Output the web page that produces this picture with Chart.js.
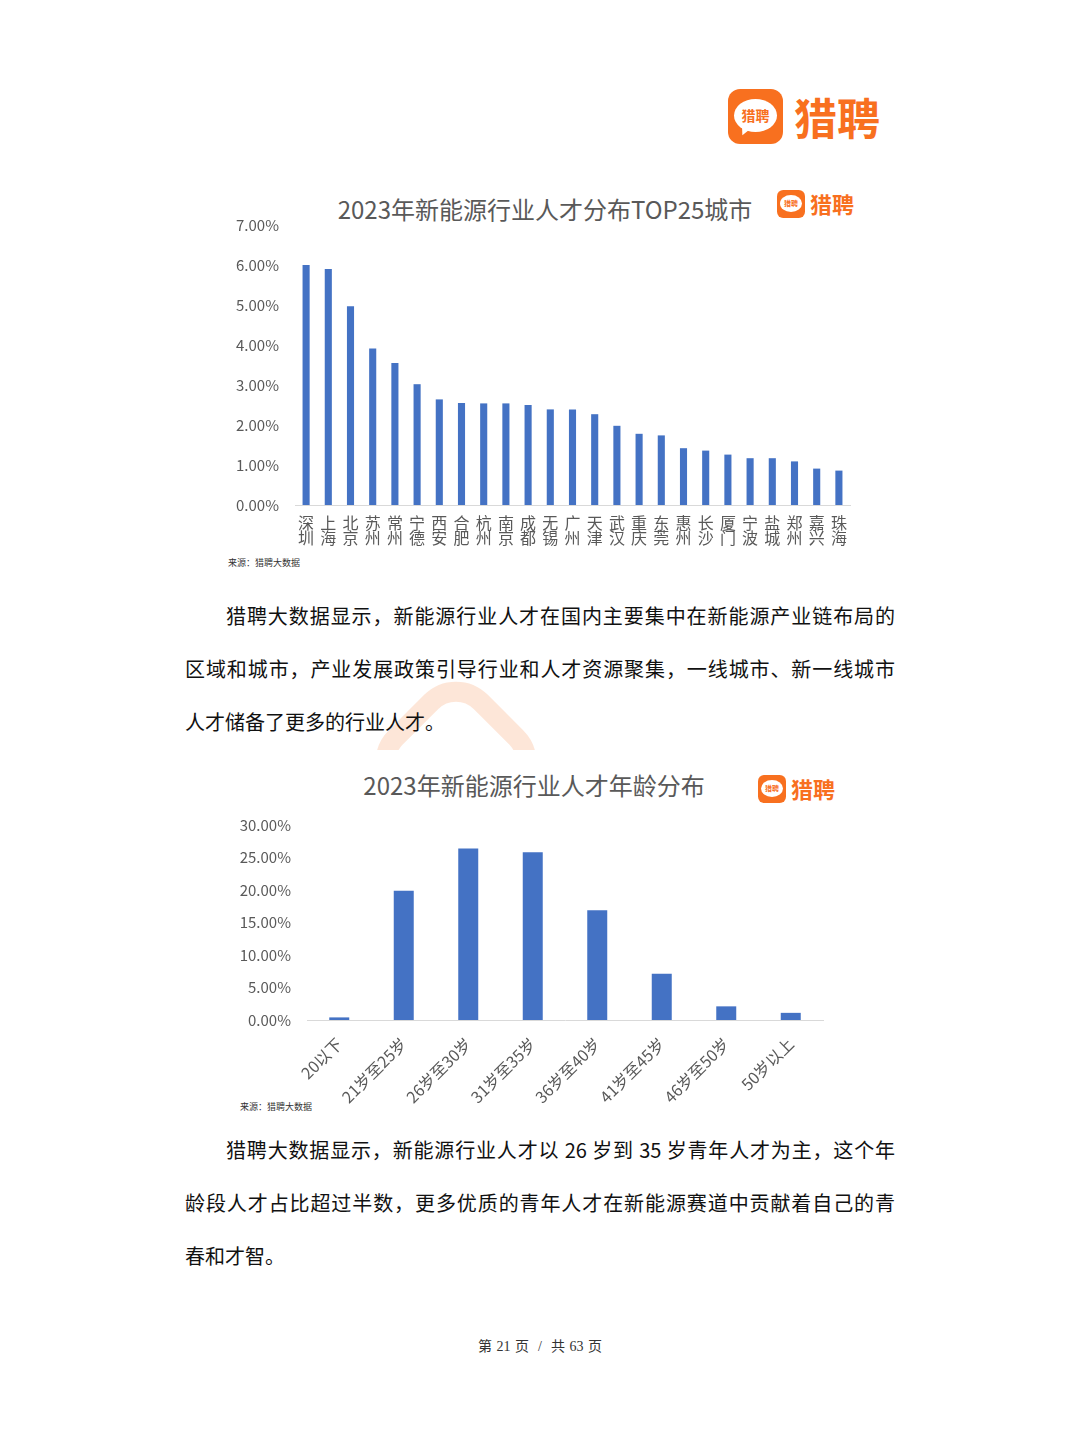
<!DOCTYPE html>
<html>
<head>
<meta charset="utf-8">
<script src="https://cdn.jsdelivr.net/npm/chart.js@4.4.1/dist/chart.umd.min.js"></script>
<style>
  html, body { margin:0; padding:0; background:#fff; }
  body { width:1080px; height:1439px; position:relative; overflow:hidden;
         font-family:"Noto Sans CJK SC","Noto Sans",sans-serif; }
  .abs { position:absolute; }
  .icon { position:absolute; background:#f8701f; border-radius:22%; }
  .bubble { position:absolute; background:#fff; border-radius:50%; color:#f8701f;
            font-weight:bold; text-align:center; white-space:nowrap; }
  .logotext { position:absolute; color:#f8701f; font-weight:bold; white-space:nowrap; line-height:1; }
  .title { position:absolute; color:#595959; font-size:24px; white-space:nowrap; line-height:1;
           transform:translateX(-50%); }
  .para { position:absolute; left:185px; width:710px; font-size:20px; color:#111; }
  .line { height:53px; line-height:53px; white-space:nowrap; }
  .just { text-align:justify; text-align-last:justify; }
  .src { position:absolute; font-size:9px; color:#333; white-space:nowrap; font-family:"Noto Sans CJK SC",serif; }
  .wmclip { position:absolute; left:300px; top:600px; width:300px; height:150px; overflow:hidden; z-index:0; }
  .wm { position:absolute; left:86px; top:92px; width:100px; height:100px;
        border:20px solid rgba(250,200,168,0.45); border-radius:45px; transform:rotate(45deg); }
</style>
</head>
<body>
<div class="wmclip"><div class="wm"></div></div>

<!-- big logo -->
<div class="icon" style="left:728px;top:89px;width:55px;height:55px;">
  <div class="bubble" style="left:6px;top:10px;width:43px;height:33px;font-size:14px;line-height:33px;">猎聘</div>
  <div style="position:absolute;left:12px;top:37px;width:0;height:0;border-left:4px solid transparent;border-right:6px solid transparent;border-top:10px solid #fff;transform:rotate(20deg);"></div>
</div>
<div class="logotext" style="left:794px;top:95px;font-size:43px;">猎聘</div>

<!-- chart 1 -->
<div class="title" style="left:545px;top:197px;">2023年新能源行业人才分布TOP25城市</div>
<div class="icon" style="left:777px;top:190px;width:28px;height:28px;">
  <div class="bubble" style="left:3px;top:5px;width:22px;height:17px;font-size:7px;line-height:17px;">猎聘</div>
</div>
<div class="logotext" style="left:810px;top:192px;font-size:22px;">猎聘</div>
<div class="abs" style="left:200px;top:200px;width:680px;height:360px;z-index:1;"><canvas id="c1"></canvas></div>
<div class="src" style="left:228px;top:556px;">来源：猎聘大数据</div>

<div class="para" style="top:589px;z-index:2;">
  <div class="line just" style="padding-left:41px;">猎聘大数据显示，新能源行业人才在国内主要集中在新能源产业链布局的</div>
  <div class="line just">区域和城市，产业发展政策引导行业和人才资源聚集，一线城市、新一线城市</div>
  <div class="line">人才储备了更多的行业人才。</div>
</div>

<!-- chart 2 -->
<div class="title" style="left:534px;top:773px;">2023年新能源行业人才年龄分布</div>
<div class="icon" style="left:758px;top:775px;width:28px;height:28px;">
  <div class="bubble" style="left:3px;top:5px;width:22px;height:17px;font-size:7px;line-height:17px;">猎聘</div>
</div>
<div class="logotext" style="left:791px;top:777px;font-size:22px;">猎聘</div>
<div class="abs" style="left:200px;top:800px;width:680px;height:320px;z-index:1;"><canvas id="c2"></canvas></div>
<div class="src" style="left:240px;top:1100px;">来源：猎聘大数据</div>

<div class="para" style="top:1123px;z-index:2;">
  <div class="line just" style="padding-left:41px;">猎聘大数据显示，新能源行业人才以 26 岁到 35 岁青年人才为主，这个年</div>
  <div class="line just">龄段人才占比超过半数，更多优质的青年人才在新能源赛道中贡献着自己的青</div>
  <div class="line">春和才智。</div>
</div>

<div class="abs" style="left:0;width:1080px;top:1335px;text-align:center;font-size:14px;color:#333;word-spacing:1px;font-family:'Liberation Serif','DejaVu Serif','Noto Sans CJK SC',serif;">第 21 页 &nbsp;/&nbsp; 共 63 页</div>

<script>
const cities = ['深圳','上海','北京','苏州','常州','宁德','西安','合肥','杭州','南京','成都','无锡','广州','天津','武汉','重庆','东莞','惠州','长沙','厦门','宁波','盐城','郑州','嘉兴','珠海'];
const cityShare = [6.00,5.90,4.97,3.91,3.55,3.02,2.64,2.55,2.54,2.54,2.50,2.39,2.39,2.27,1.98,1.78,1.74,1.42,1.36,1.26,1.17,1.17,1.09,0.91,0.86];
const cityTicks = [0,1,2,3,4,5,6,7];

const ageGroups = ['20以下','21岁至25岁','26岁至30岁','31岁至35岁','36岁至40岁','41岁至45岁','46岁至50岁','50岁以上'];
const ageShare = [0.40,19.9,26.4,25.8,16.9,7.1,2.1,1.1];
const ageTicks = [0,5,10,15,20,25,30];

const BAR = '#4472C4';
const TXT = '#595959';
const FONT = '"Noto Sans CJK SC","Noto Sans",sans-serif';

new Chart(document.getElementById('c1'), {
  type:'bar',
  data:{ labels: cities.map(c => c.split('')),
         datasets:[{ data: cityShare, backgroundColor: BAR, barPercentage:0.32, categoryPercentage:1 }] },
  options:{
    responsive:true, maintainAspectRatio:false, animation:false,
    layout:{ padding:{ top:25, right:30, left:0, bottom:0 } },
    plugins:{ legend:{display:false}, tooltip:{enabled:false} },
    scales:{
      x:{ grid:{ display:false, drawTicks:false }, border:{ display:true, color:'#d9d9d9', width:1 },
          ticks:{ color:TXT, font:{ family:FONT, size:16, lineHeight:0.97 }, padding:10, maxRotation:0, minRotation:0, autoSkip:false },
          afterFit: s => { s.height = 55; } },
      y:{ min:0, max:7, grid:{ display:false, drawTicks:false }, border:{ display:false },
          afterBuildTicks: s => { s.ticks = cityTicks.map(v => ({value:v})); },
          ticks:{ color:TXT, font:{ family:FONT, size:15 }, padding:16, callback: v => v.toFixed(2) + '%' },
          afterFit: s => { s.width = 95; } }
    }
  }
});

new Chart(document.getElementById('c2'), {
  type:'bar',
  data:{ labels: ageGroups,
         datasets:[{ data: ageShare, backgroundColor: BAR, barPercentage:0.31, categoryPercentage:1 }] },
  options:{
    responsive:true, maintainAspectRatio:false, animation:false,
    layout:{ padding:{ top:24, right:57, left:0, bottom:0 } },
    plugins:{ legend:{display:false}, tooltip:{enabled:false} },
    scales:{
      x:{ grid:{ display:false, drawTicks:false }, border:{ display:true, color:'#d9d9d9', width:1 },
          ticks:{ color:TXT, font:{ family:FONT, size:16 }, padding:14, maxRotation:45, minRotation:45, autoSkip:false },
          afterFit: s => { s.height = 100; } },
      y:{ min:0, max:30, grid:{ display:false, drawTicks:false }, border:{ display:false },
          afterBuildTicks: s => { s.ticks = ageTicks.map(v => ({value:v})); },
          ticks:{ color:TXT, font:{ family:FONT, size:15 }, padding:16, callback: v => v.toFixed(2) + '%' },
          afterFit: s => { s.width = 107; } }
    }
  }
});
</script>
</body>
</html>
